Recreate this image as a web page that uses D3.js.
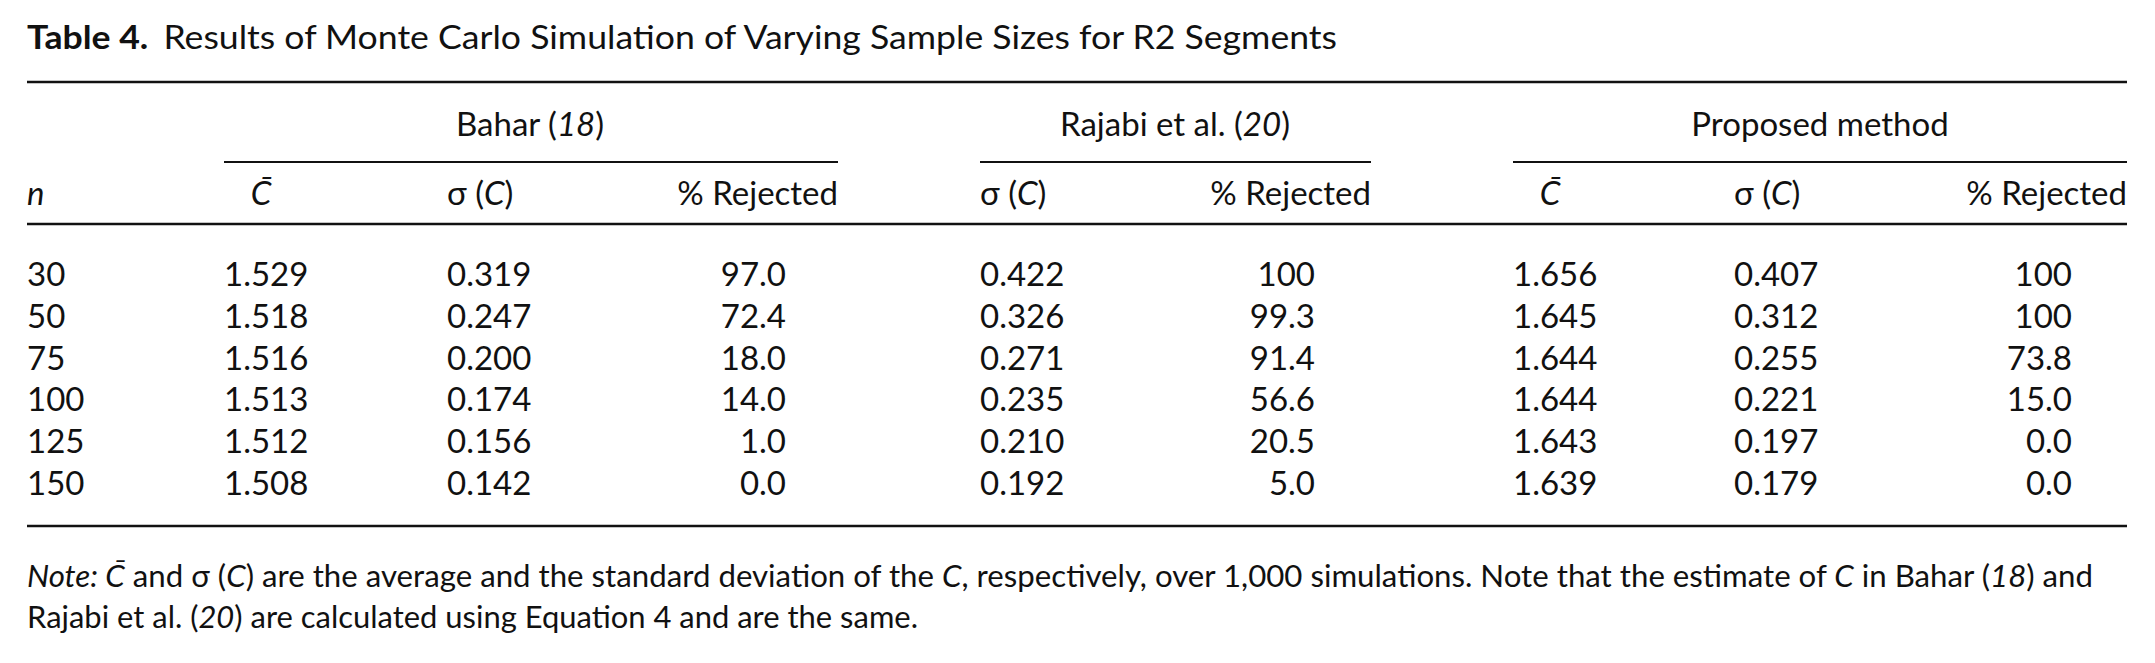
<!DOCTYPE html>
<html><head><meta charset="utf-8">
<script src="https://cdn.jsdelivr.net/npm/d3@7"></script>
<style>body{margin:0;background:#fff}text{font-family:Lato,"Open Sans",sans-serif;fill:#111}</style>
</head><body><svg id="c" width="2155" height="663"></svg>
<script>
const nValues = ["30","50","75","100","125","150"];
const baharC = ["1.529","1.518","1.516","1.513","1.512","1.508"];
const baharSd = ["0.319","0.247","0.200","0.174","0.156","0.142"];
const baharRej = ["97.0","72.4","18.0","14.0","1.0","0.0"];
const rajabiSd = ["0.422","0.326","0.271","0.235","0.210","0.192"];
const rajabiRej = ["100","99.3","91.4","56.6","20.5","5.0"];
const propC = ["1.656","1.645","1.644","1.644","1.643","1.639"];
const propSd = ["0.407","0.312","0.255","0.221","0.197","0.179"];
const propRej = ["100","100","73.8","15.0","0.0","0.0"];

const svg = d3.select("#c");
const FS = 33;
const y = d3.scalePoint().domain(nValues).range([275, 484]);

const t = svg.append("text").attr("x",27).attr("y",49).attr("font-size",33);
t.append("tspan").attr("font-weight","bold").text("Table 4.");
t.append("tspan").attr("dx",14).text("Results of Monte Carlo Simulation of Varying Sample Sizes for R2 Segments");
t.attr("textLength",1310).attr("lengthAdjust","spacingAndGlyphs");

function rule(x1,x2,yy,w){svg.append("line").attr("x1",x1).attr("x2",x2).attr("y1",yy).attr("y2",yy).attr("stroke","#111").attr("stroke-width",w);}
rule(27,2127,82,2.5); rule(224,838,162,2); rule(980,1371,162,2); rule(1513,2127,162,2);
rule(27,2127,224,2.5); rule(27,2127,526,2.5);

function txt(x,yy,s,anchor,italic){return svg.append("text").attr("x",x).attr("y",yy).attr("font-size",FS).attr("text-anchor",anchor||"start").attr("font-style",italic?"italic":null).text(s);}
function grp(x,yy,pre,it,post){const e=svg.append("text").attr("x",x).attr("y",yy).attr("font-size",FS).attr("text-anchor","middle");
 e.append("tspan").text(pre); e.append("tspan").attr("font-style","italic").text(it); e.append("tspan").text(post); return e;}
grp(530,136,"Bahar (","18",")");
grp(1175,136,"Rajabi et al. (","20",")");
txt(1820,136,"Proposed method","middle");

function sig(x,yy,anchor){const e=svg.append("text").attr("x",x).attr("y",yy).attr("font-size",FS).attr("text-anchor",anchor||"start");
 e.append("tspan").text("σ ("); e.append("tspan").attr("font-style","italic").text("C"); e.append("tspan").text(")");}
const hy = 205;
txt(27,hy,"n","start",true);
txt(261,hy,"C\u0304","middle",true);
sig(447,hy); txt(838,hy,"% Rejected","end");
sig(980,hy); txt(1371,hy,"% Rejected","end");
txt(1550,hy,"C\u0304","middle",true);
sig(1734,hy); txt(2127,hy,"% Rejected","end");

const cols = [
 [nValues,27,"start"],[baharC,224,"start"],[baharSd,447,"start"],[baharRej,786,"end"],
 [rajabiSd,980,"start"],[rajabiRej,1315,"end"],
 [propC,1513,"start"],[propSd,1734,"start"],[propRej,2072,"end"]];
cols.forEach(([arr,x,a])=>{
 svg.append("g").selectAll("text").data(arr).join("text")
  .attr("x",x).attr("y",(d,i)=>y(nValues[i])+11).attr("font-size",FS).attr("text-anchor",a).text(d=>d);
});

const n1 = svg.append("text").attr("x",27).attr("y",587).attr("font-size",30);
n1.append("tspan").attr("font-style","italic").text("Note: C\u0304");
n1.append("tspan").text(" and σ (");
n1.append("tspan").attr("font-style","italic").text("C");
n1.append("tspan").text(") are the average and the standard deviation of the ");
n1.append("tspan").attr("font-style","italic").text("C");
n1.append("tspan").text(", respectively, over 1,000 simulations. Note that the estimate of ");
n1.append("tspan").attr("font-style","italic").text("C");
n1.append("tspan").text(" in Bahar (");
n1.append("tspan").attr("font-style","italic").text("18");
n1.append("tspan").text(") and");
n1.attr("textLength",2066).attr("lengthAdjust","spacingAndGlyphs");
const n2 = svg.append("text").attr("x",27).attr("y",628).attr("font-size",30);
n2.append("tspan").text("Rajabi et al. (");
n2.append("tspan").attr("font-style","italic").text("20");
n2.append("tspan").text(") are calculated using Equation 4 and are the same.");
n2.attr("textLength",891).attr("lengthAdjust","spacingAndGlyphs");
</script></body></html>
